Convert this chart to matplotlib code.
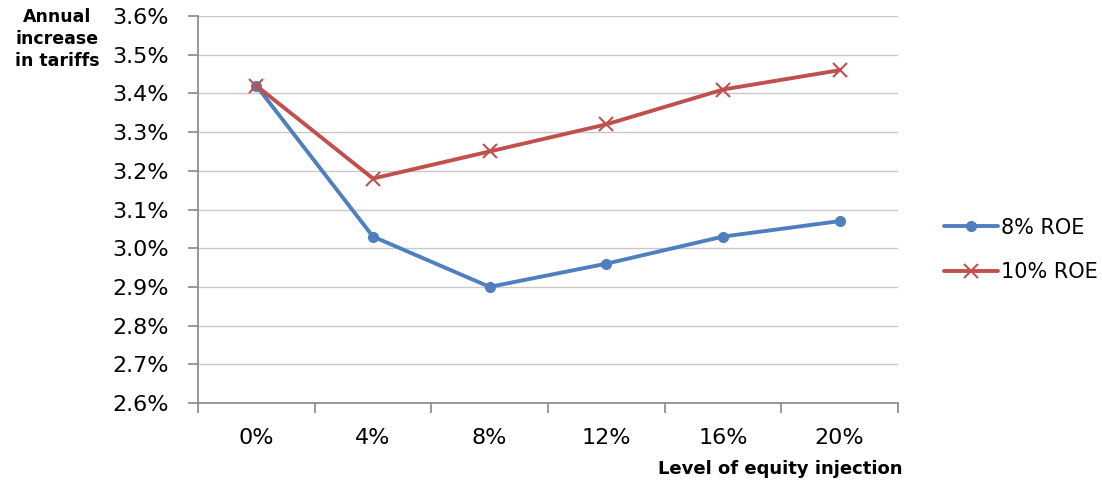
import matplotlib
matplotlib.use("Agg")
from matplotlib import pyplot as plt
from matplotlib.ticker import FuncFormatter, FixedLocator

categories = ["0%", "4%", "8%", "12%", "16%", "20%"]
roe_8 = [3.42, 3.03, 2.90, 2.96, 3.03, 3.07]
roe_10 = [3.42, 3.18, 3.25, 3.32, 3.41, 3.46]

plt.rcParams['font.family'] = ['DejaVu Sans']

fig = plt.figure(figsize=(11.02, 4.83), dpi=100)
ax = fig.add_axes([198/1102, 1-403/483, 700/1102, 387/483])

x = list(range(len(categories)))
ax.plot(x, roe_8, color="#4F7FBE", lw=2.8, marker="o", ms=7, label="8% ROE",
        solid_capstyle="round", solid_joinstyle="round", zorder=3)
ax.plot(x, roe_10, color="#C0504D", lw=2.8, marker="x", ms=10, mew=1.5, label="10% ROE",
        solid_capstyle="round", solid_joinstyle="round", zorder=3)

ax.set_ylim(2.6, 3.6)
ax.set_yticks([2.6 + 0.1*i for i in range(11)])
ax.yaxis.set_major_formatter(FuncFormatter(lambda v, p: f"{v:.1f}%"))
ax.set_xlim(-0.5, 5.5)
ax.set_xticks(x)
ax.set_xticklabels(categories)
ax.xaxis.set_minor_locator(FixedLocator([i - 0.5 for i in range(7)]))
ax.tick_params(axis="x", which="major", length=0, pad=18, labelsize=16)
ax.tick_params(axis="x", which="minor", length=7, color="#888888", width=1.2)
ax.tick_params(axis="y", length=7, color="#888888", width=1.2, pad=14, labelsize=16)

ax.grid(axis="y", color="#c8c8c8", lw=1)
ax.set_axisbelow(True)
for s in ["top", "right"]:
    ax.spines[s].set_visible(False)
for s in ["left", "bottom"]:
    ax.spines[s].set_color("#888888")
    ax.spines[s].set_linewidth(1.2)

fig.text(57/1102, 1-8/483, "Annual\nincrease\nin tariffs", ha="center", va="top",
         fontsize=12.5, fontweight="bold", linespacing=1.3)
fig.text(903/1102, 1-478/483, "Level of equity injection", ha="right", va="bottom",
         fontsize=13, fontweight="bold")

fig.legend(loc="center left", bbox_to_anchor=(925/1102, 1-250/483), frameon=False,
           fontsize=15, handlelength=2.6, handletextpad=0.15, labelspacing=1.2)

fig.savefig("out.png", dpi=100)
